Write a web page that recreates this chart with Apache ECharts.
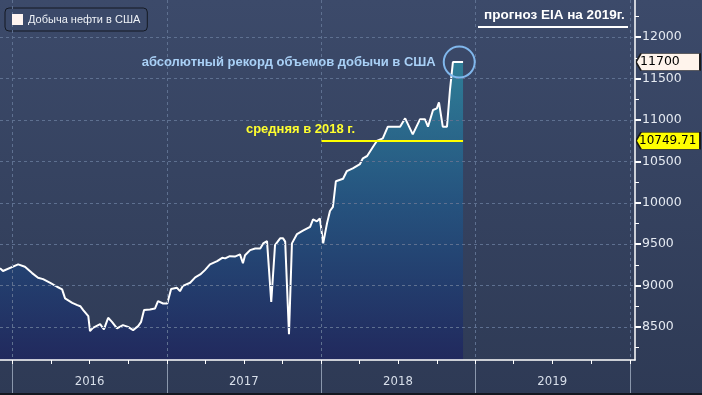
<!DOCTYPE html>
<html><head><meta charset="utf-8">
<script src="https://cdn.jsdelivr.net/npm/echarts@6/dist/echarts.min.js"></script>
<style>html,body{margin:0;padding:0;background:#36445f}#c{width:702px;height:395px}</style>
</head><body><div id="c"></div>
<script>
// ---- data ----
const dates = [
 '2015-12-02','2015-12-09','2016-01-14','2016-01-30','2016-02-16','2016-03-01','2016-03-13','2016-03-30',
 '2016-04-15','2016-04-27','2016-05-04','2016-05-21','2016-06-02','2016-06-09','2016-06-16','2016-06-28',
 '2016-07-02','2016-07-09','2016-07-26','2016-08-04','2016-08-14','2016-08-23','2016-09-04','2016-09-18',
 '2016-09-30','2016-10-12','2016-10-24','2016-10-31','2016-11-07','2016-11-21','2016-12-03','2016-12-10',
 '2016-12-22','2017-01-01','2017-01-10','2017-01-24','2017-01-31','2017-02-07','2017-02-24','2017-03-08',
 '2017-03-20','2017-03-31','2017-04-12','2017-04-29','2017-05-11','2017-05-18','2017-05-29','2017-06-10',
 '2017-06-22','2017-06-29','2017-07-04','2017-07-16','2017-07-28','2017-08-09','2017-08-16','2017-08-25',
 '2017-08-28','2017-09-04','2017-09-13','2017-09-25','2017-10-02','2017-10-07','2017-10-16','2017-10-23',
 '2017-11-04','2017-11-18','2017-12-05','2017-12-12','2017-12-21','2017-12-28','2018-01-05','2018-01-14',
 '2018-01-21','2018-01-28','2018-02-04','2018-02-21','2018-03-02','2018-03-16','2018-04-02','2018-04-09',
 '2018-04-19','2018-05-03','2018-05-12','2018-05-26','2018-06-07','2018-06-19','2018-07-06','2018-07-18',
 '2018-08-05','2018-08-22','2018-09-03','2018-09-10','2018-09-22','2018-10-01','2018-10-06','2018-10-15',
 '2018-10-25','2018-11-01','2018-11-08','2018-12-02'
];
const production = [
 9210,9175,9255,9226,9150,9093,9077,9033,
 8985,8953,8844,8791,8763,8750,8703,8630,
 8449,8488,8533,8469,8610,8561,8481,8521,
 8500,8461,8509,8561,8703,8711,8723,8811,
 8783,8783,8957,8972,8932,8996,9033,9098,
 9134,9186,9255,9295,9335,9328,9355,9350,
 9376,9270,9365,9428,9448,9448,9509,9537,
 9549,8803,9489,9570,9570,9530,8412,9509,
 9622,9662,9710,9800,9775,9810,9510,9751,
 9900,9950,10260,10290,10383,10416,10468,10537,
 10565,10677,10746,10779,10919,10919,10919,11020,
 10827,11008,11008,10919,11121,11141,11214,10919,
 10919,11362,11700,11700
];
const seriesName = 'Добыча нефти в США';
const avg2018 = 10749.71;
const avgRange = ['2018-01-01', '2018-12-02'];
const recordPoint = ['2018-11-23', 11700];
const lastValue = 11700;
const yTicks = [8500, 9000, 9500, 10000, 10500, 11000, 11500, 12000];
const yMinorTicks = [8250, 8750, 9250, 9750, 10250, 10750, 11250, 11750, 12250];
const yearStarts = ['2016-01-01','2017-01-01','2018-01-01','2019-01-01','2020-01-01'];
const yearLabelAt = ['2016-07-01','2017-07-01','2018-07-01','2019-07-01'];
const quarterTicks = [
 '2016-01-01','2016-04-01','2016-07-01','2016-10-01','2017-01-01','2017-04-01','2017-07-01','2017-10-01',
 '2018-01-01','2018-04-01','2018-07-01','2018-10-01','2019-01-01','2019-04-01','2019-07-01','2019-10-01','2020-01-01'
];
const xRange = ['2015-12-02', '2020-01-13'];
const yRange = [8100, 12450];
const txtRecord = 'абсолютный рекорд объемов добычи в США';
const txtAvg = 'средняя в 2018 г.';
const txtForecast = 'прогноз EIA на 2019г.';

// ---- chart ----
const P = s => Date.parse(s + 'T00:00:00Z');
const chart = echarts.init(document.getElementById('c'), null, {renderer: 'canvas'});
const tagPath = 'path://M0,6 L5,0 L64,0 L64,12 L5,12 Z';
const FONT = "'Liberation Sans', Arial, sans-serif";

chart.setOption({
  animation: false,
  backgroundColor: new echarts.graphic.LinearGradient(0, 0, 0, 1, [
    {offset: 0, color: '#3c4a6a'}, {offset: 1, color: '#2e3a55'}
  ]),
  textStyle: {fontFamily: FONT},
  grid: {left: 0, right: 67, top: 0, bottom: 35, containLabel: false},
  legend: {
    data: [seriesName], left: 5, top: 8, icon: 'rect', itemWidth: 11, itemHeight: 11,
    backgroundColor: '#3b4969', borderColor: '#141922', borderWidth: 1, borderRadius: 4,
    padding: [6, 7, 6, 7], itemGap: 5,
    itemStyle: {color: '#fff4f0', borderWidth: 0},
    textStyle: {color: '#eef1f6', fontSize: 11, fontFamily: FONT}
  },
  xAxis: [{
    type: 'value', min: P(xRange[0]), max: P(xRange[1]), position: 'bottom', z: 5,
    axisLine: {show: true, onZero: false, lineStyle: {color: '#ffffff', width: 1.5}},
    axisTick: {show: true, length: 4, customValues: quarterTicks.map(P), lineStyle: {color: '#ffffff', width: 1}},
    axisLabel: {
      show: true, customValues: yearLabelAt.map(P), margin: 15,
      color: '#d8dfea', fontSize: 13, fontFamily: "'Liberation Sans Narrow','DejaVu Sans Condensed', Arial, sans-serif",
      formatter: v => String(new Date(v).getUTCFullYear())
    },
    splitLine: {show: false}
  }, {
    type: 'value', min: P(xRange[0]), max: P(xRange[1]), position: 'bottom', z: 4,
    axisLine: {show: false, onZero: false},
    axisTick: {show: true, length: 33, customValues: yearStarts.map(P), lineStyle: {color: '#8a97ac', width: 1}},
    axisLabel: {show: false},
    splitLine: {show: true, lineStyle: {color: '#5e7090', type: [3, 3], width: 1}}
  }],
  yAxis: [{
    type: 'value', position: 'right', min: yRange[0], max: yRange[1], z: 5,
    axisLine: {show: true, onZero: false, lineStyle: {color: '#ffffff', width: 1.5}},
    axisTick: {show: true, length: 6, customValues: yTicks, lineStyle: {color: '#ffffff', width: 2}},
    axisLabel: {show: true, customValues: yTicks, margin: 7, color: '#e4e9f1', fontSize: 12.5,
                fontFamily: "'DejaVu Sans', sans-serif", formatter: v => String(v)},
    splitLine: {show: true, lineStyle: {color: '#5e7090', type: [3, 3], width: 1}}
  }, {
    type: 'value', position: 'right', min: yRange[0], max: yRange[1], z: 4,
    axisLine: {show: false, onZero: false},
    axisTick: {show: true, length: 4, customValues: yMinorTicks, lineStyle: {color: '#ffffff', width: 1}},
    axisLabel: {show: false},
    splitLine: {show: false}
  }],
  series: [{
    name: seriesName, type: 'line', xAxisIndex: 0, yAxisIndex: 0,
    data: dates.map((d, i) => [P(d), production[i]]),
    showSymbol: false, symbol: 'none', smooth: false, clip: false,
    color: '#fff4f0',
    lineStyle: {color: '#ffffff', width: 2},
    areaStyle: {
      origin: 'start',
      color: new echarts.graphic.LinearGradient(0, 0, 0, 1, [
        {offset: 0, color: '#2a95ac'}, {offset: 0.45, color: '#1f5c8d'}, {offset: 1, color: '#1b2160'}
      ])
    },
    markLine: {
      silent: true, symbol: 'none', animation: false,
      lineStyle: {color: '#ffff00', width: 2, type: 'solid'},
      label: {show: false},
      data: [[{coord: [P(avgRange[0]), avg2018]}, {coord: [P(avgRange[1]), avg2018]}]]
    },
    markPoint: {
      silent: true, animation: false,
      data: [
        {coord: [P(recordPoint[0]), recordPoint[1]], symbol: 'circle', symbolSize: 31,
         itemStyle: {color: 'rgba(0,0,0,0)', borderColor: '#80b7ec', borderWidth: 2},
         label: {show: true, position: 'left', distance: 7, formatter: txtRecord,
                 color: '#a9d0f6', fontWeight: 'bold', fontSize: 13, fontFamily: FONT}},
        {coord: [P(avgRange[0]), avg2018], symbol: 'circle', symbolSize: 1,
         itemStyle: {color: 'rgba(0,0,0,0)'},
         label: {show: true, position: 'top', distance: 4, offset: [-21, 0], formatter: txtAvg,
                 color: '#ffff2e', fontWeight: 'bold', fontSize: 13, fontFamily: FONT}},
        {coord: [P(xRange[1]), lastValue], symbol: tagPath, symbolSize: [64, 17], symbolKeepAspect: false,
         symbolOffset: [33, 0],
         itemStyle: {color: '#fff4ec', borderColor: '#1a1a1a', borderWidth: 1},
         label: {show: true, position: 'insideLeft', distance: 5, formatter: String(lastValue),
                 color: '#000000', fontSize: 12.5, fontFamily: "'DejaVu Sans', sans-serif"}},
        {coord: [P(xRange[1]), avg2018], symbol: tagPath, symbolSize: [64, 17], symbolKeepAspect: false,
         symbolOffset: [33, 0],
         itemStyle: {color: '#ffff00', borderColor: '#1a1a1a', borderWidth: 1},
         label: {show: true, position: 'insideLeft', distance: 4, formatter: avg2018.toFixed(2),
                 color: '#000000', fontSize: 12, fontFamily: "'DejaVu Sans', sans-serif"}}
      ]
    }
  }],
  graphic: [
    {type: 'text', left: 484, top: 8, z: 10,
     style: {text: txtForecast, fill: '#ffffff', font: "bold 13.5px 'Liberation Sans', Arial, sans-serif"}},
    {type: 'rect', shape: {x: 478, y: 26, width: 150, height: 2}, style: {fill: '#ffffff'}, z: 10},
    {type: 'rect', shape: {x: 0, y: 393, width: 702, height: 2}, style: {fill: '#141820'}, z: 10}
  ]
});
</script></body></html>
